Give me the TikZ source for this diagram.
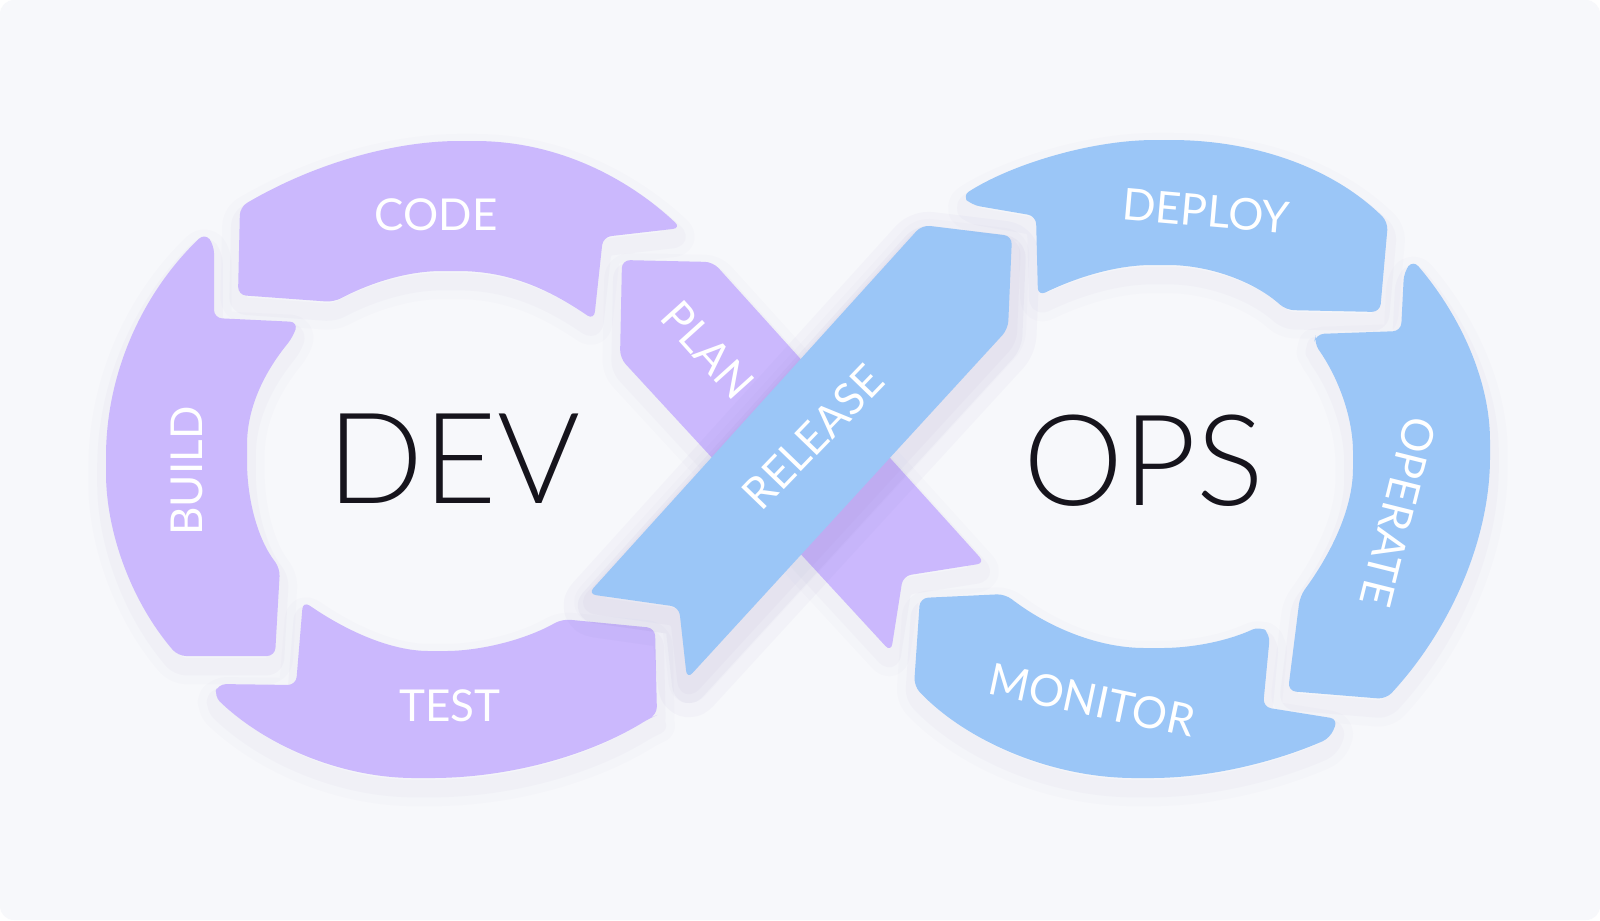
\documentclass[tikz,border=0pt]{standalone}
\usepackage{fontspec}
\setmainfont{Lato}[UprightFont={* Light}]
\newfontfamily\tagfont{Lato}
\definecolor{devfill}{HTML}{CBB8FD}
\definecolor{opsfill}{HTML}{9BC6F7}
\definecolor{card}{HTML}{F7F8FB}
\definecolor{ink}{HTML}{16141C}
\definecolor{shadowc}{HTML}{7A70B8}
\tikzset{
  soft/.style={preaction={draw=shadowc, line width=10pt, line join=round, opacity=0.02, transform canvas={yshift=-3pt}},
    preaction={draw=shadowc, line width=5pt, line join=round, opacity=0.03, transform canvas={yshift=-3pt}}},
  part/.style={rounded corners=2.3pt, soft},
  devpart/.style={part, fill=devfill},
  opspart/.style={part, fill=opsfill},
  tag/.style={text=white, inner sep=0pt, font=\tagfont\fontsize{12.5}{12.5}\selectfont},
  hub/.style={text=ink, inner sep=0pt, font=\fontsize{36}{36}\selectfont}
}
\begin{document}
\begin{tikzpicture}[x=0.01cm, y=-0.01cm]
\useasboundingbox (0,0) rectangle (1600,920);
\fill[white] (0,0) rectangle (1600,920);
\fill[card, rounded corners=4pt] (0,0) rectangle (1600,920);

% dev loop
\path[devpart] (240,207) .. controls (320,160) and (400,141) .. (467,141)
  .. controls (560,141) and (630,180) .. (681,228)
  -- (603,237) -- (594,320) .. controls (550,290) and (510,271) .. (450,271)
  .. controls (400,271) and (360,288) .. (334,302)
  -- (238,295) -- cycle;
\path[devpart] (178,656) .. controls (130,600) and (106,530) .. (106,465)
  .. controls (106,370) and (145,290) .. (205,233)
  -- (214,245) -- (214,318) -- (298,322) -- (293,337)
  .. controls (262,375) and (247,410) .. (247,453)
  .. controls (247,500) and (258,540) .. (280,568)
  -- (275,656) -- cycle;
\path[devpart] (303,601) .. controls (345,630) and (390,651) .. (437,651)
  .. controls (480,651) and (525,640) .. (562,619)
  -- (655,628) -- (657,715) -- (650,718) .. controls (590,755) and (510,778) .. (423,778)
  .. controls (340,778) and (265,745) .. (214,696)
  -- (218,684) -- (296,685) -- cycle;
\path[devpart] (622,260) -- (713,262) -- (985,563) -- (903,576) -- (891,652) -- (620,358) -- cycle;

% ops loop
\path[opspart, preaction={draw=shadowc, line width=16pt, line join=round, opacity=0.04, transform canvas={yshift=-4pt}},
  preaction={draw=shadowc, line width=8pt, line join=round, opacity=0.05, transform canvas={yshift=-4pt}}]
  (922,225) -- (1012,236) -- (1008,329) -- (687,679) -- (679,607) -- (588,594) -- cycle;
\path[opspart] (1388,222) .. controls (1330,165) and (1250,140) .. (1163,140)
  .. controls (1090,140) and (1010,165) .. (962,196)
  -- (972,205) -- (1036,216) -- (1038,296) .. controls (1075,278) and (1115,265) .. (1160,265)
  .. controls (1210,265) and (1255,282) .. (1286,310)
  -- (1380,312) -- cycle;
\path[opspart] (1386,699) .. controls (1450,630) and (1490,540) .. (1490,449)
  .. controls (1490,380) and (1460,315) .. (1413,260)
  -- (1404,272) -- (1401,331) -- (1316,334) -- (1314,343)
  .. controls (1340,380) and (1353,420) .. (1353,460)
  .. controls (1353,510) and (1330,555) .. (1300,596)
  -- (1288,691) -- cycle;
\path[opspart] (920,598) -- (1005,594) .. controls (1045,625) and (1095,648) .. (1153,648)
  .. controls (1195,648) and (1230,640) .. (1260,626)
  -- (1270,634) -- (1263,707) -- (1338,719) -- (1330,738)
  .. controls (1275,762) and (1210,778) .. (1143,778)
  .. controls (1050,778) and (965,740) .. (914,686)
  -- cycle;

% labels
\node[hub] (dev) at (454,459) {DEV};
\node[hub] (ops) at (1144,461) {OPS};
\node[tag] (code) at (436,215) {CODE};
\node[tag, rotate=90] (build) at (187,471) {BUILD};
\node[tag] (test) at (450,706) {TEST};
\node[tag, rotate=-48] (plan) at (708,350) {PLAN};
\node[tag, rotate=46] (release) at (813,437) {RELEASE};
\node[tag, rotate=-5] (deploy) at (1206,211) {DEPLOY};
\node[tag, rotate=-104] (operate) at (1398,512) {OPERATE};
\node[tag, rotate=-12] (monitor) at (1092,700) {MONITOR};
\end{tikzpicture}
\end{document}
